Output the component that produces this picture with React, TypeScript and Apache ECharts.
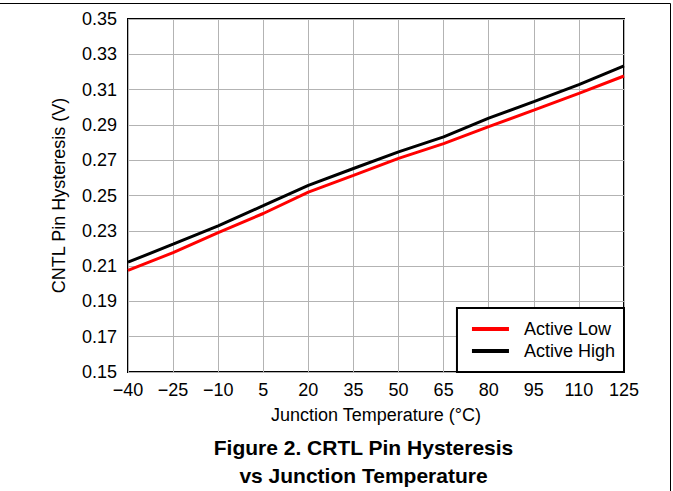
import React, { useEffect, useRef } from "react";
import * as echarts from "echarts";

const temperatures = [-40, -25, -10, 5, 20, 35, 50, 65, 80, 95, 110, 125];
const activeLow = [0.2076, 0.2176, 0.229, 0.2398, 0.2519, 0.2614, 0.271, 0.2794, 0.289, 0.2984, 0.3079, 0.3177];
const activeHigh = [0.2122, 0.2224, 0.2328, 0.2442, 0.2557, 0.2653, 0.2747, 0.2832, 0.2938, 0.3032, 0.3128, 0.3235];
const seriesNames = ["Active Low", "Active High"];
const X_MIN = -40;
const X_MAX = 125;
const X_STEP = 15;
const Y_MIN = 0.15;
const Y_MAX = 0.35;
const Y_STEP = 0.02;
const xName = "Junction Temperature (°C)";
const yName = "CNTL Pin Hysteresis (V)";
const caption = "Figure 2. CRTL Pin Hysteresis\nvs Junction Temperature";

const FONT = "'Liberation Sans', Arial, Helvetica, sans-serif";

export default function App() {
  const ref = useRef<HTMLDivElement>(null);
  useEffect(() => {
    if (!ref.current) return;
    const chart = echarts.init(ref.current, null, { renderer: "svg" });
    const toPts = (vals: number[]) => temperatures.map((t, i) => [t - X_MIN, vals[i] - Y_MIN]);
    chart.setOption({
      animation: false,
      backgroundColor: "#fff",
      textStyle: { fontFamily: FONT },
      title: {
        text: caption,
        left: 363.5,
        top: 433,
        textAlign: "center",
        padding: 0,
        textStyle: { fontFamily: FONT, fontSize: 21, fontWeight: "bold", color: "#000", lineHeight: 28 },
      },
      grid: {
        left: 128,
        right: 49,
        top: 19,
        bottom: 119,
        show: true,
        borderColor: "#000",
        borderWidth: 2,
        backgroundColor: "transparent",
        containLabel: false,
      },
      legend: {
        orient: "vertical",
        right: 49,
        bottom: 119,
        backgroundColor: "#fff",
        borderColor: "#000",
        borderWidth: 2,
        borderRadius: 0,
        padding: [12, 9, 12, 15],
        itemWidth: 37,
        itemHeight: 4,
        itemGap: 4,
        icon: "rect",
        data: seriesNames,
        textStyle: { fontFamily: FONT, fontSize: 18, color: "#000", lineHeight: 18, padding: [0, 0, 0, 10] },
      },
      xAxis: {
        type: "value",
        min: 0,
        max: X_MAX - X_MIN,
        interval: X_STEP,
        name: xName,
        nameLocation: "middle",
        nameGap: 34,
        nameTextStyle: { fontFamily: FONT, fontSize: 18, color: "#000" },
        axisLine: { show: false },
        axisTick: { show: false },
        axisLabel: {
          fontFamily: FONT,
          fontSize: 18,
          color: "#000",
          margin: 9,
          formatter: (v: number) => {
            const t = Math.round(v + X_MIN);
            return t < 0 ? "\u2212" + Math.abs(t) : String(t);
          },
        },
        splitLine: { show: true, lineStyle: { color: "#b3b3b3", width: 1 } },
      },
      yAxis: {
        type: "value",
        min: 0,
        max: Y_MAX - Y_MIN,
        interval: Y_STEP,
        name: yName,
        nameLocation: "middle",
        nameGap: 60,
        nameTextStyle: { fontFamily: FONT, fontSize: 18, color: "#000" },
        axisLine: { show: false },
        axisTick: { show: false },
        axisLabel: {
          fontFamily: FONT,
          fontSize: 18,
          color: "#000",
          margin: 11,
          formatter: (v: number) => (v + Y_MIN).toFixed(2),
        },
        splitLine: { show: true, lineStyle: { color: "#b3b3b3", width: 1 } },
      },
      series: [
        {
          name: seriesNames[0],
          type: "line",
          data: toPts(activeLow),
          showSymbol: false,
          symbol: "none",
          color: "#ff0000",
          lineStyle: { color: "#ff0000", width: 3 },
          z: 3,
        },
        {
          name: seriesNames[1],
          type: "line",
          data: toPts(activeHigh),
          showSymbol: false,
          symbol: "none",
          color: "#000000",
          lineStyle: { color: "#000000", width: 3 },
          z: 3,
        },
      ],
      graphic: [
        { type: "line", shape: { x1: 0, y1: 3.5, x2: 670.5, y2: 3.5 }, style: { stroke: "#000", lineWidth: 1 }, z: 10 },
        { type: "line", shape: { x1: 670.5, y1: 3.5, x2: 670.5, y2: 491 }, style: { stroke: "#000", lineWidth: 1 }, z: 10 },
      ],
    });
    return () => chart.dispose();
  }, []);
  return <div ref={ref} style={{ position: "absolute", left: 0, top: 0, width: 673, height: 491 }} />;
}
